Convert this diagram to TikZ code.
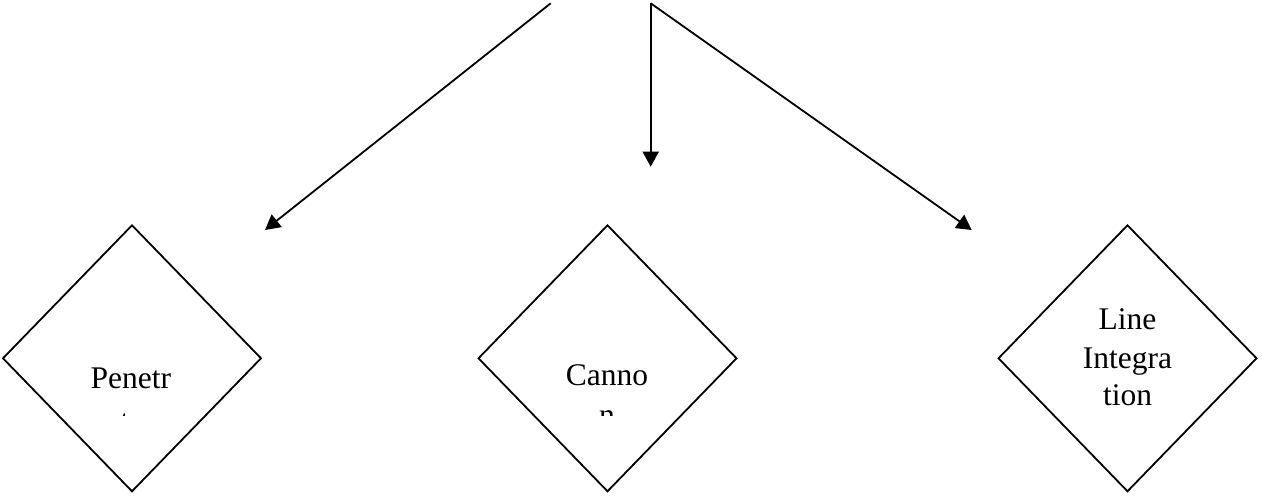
\documentclass[tikz,border=0pt]{standalone}
\usepackage{fontspec}
\setmainfont{Liberation Serif}
\usetikzlibrary{shapes.geometric,arrows.meta}
\begin{document}
\begin{tikzpicture}[x=1pt,y=-1pt,
  choice/.style={diamond,draw,line width=1.8pt,inner sep=0pt,outer sep=0pt,
    minimum width=258pt,minimum height=266pt},
  conn/.style={line width=1.8pt,-{Triangle[length=15pt,width=16pt]}},
  lbl/.style={anchor=base,inner sep=0pt,font=\fontsize{31.5}{37.8}\selectfont}]
\useasboundingbox (0,0) rectangle (1262,497);

% decision shapes
\node[choice] (pen) at (132,358.3) {};
\node[choice] (can) at (607.5,358.3) {};
\node[choice] (lin) at (1127.5,358.3) {};

% connector end points
\coordinate (srcL) at (550.7,3.3);
\coordinate (srcR) at (650.7,3.3);
\coordinate (tipL) at (265,230);
\coordinate (tipM) at (650.7,166.7);
\coordinate (tipR) at (971.7,230);

\draw[conn] (srcL) -- (tipL);
\draw[conn] (srcR) -- (tipM);
\draw[conn] (srcR) -- (tipR);

% labels (second lines cut off by the text frame)
\node[lbl] (penA) at (130.8,388.3) {Penetr};
\begin{scope}
  \clip (0,0) rectangle (400,415);
  \node[lbl] (penB) at (130.8,431) {ator};
\end{scope}

\node[lbl] (canA) at (607,385.7) {Canno};
\begin{scope}
  \clip (400,0) rectangle (900,415.5);
  \node[lbl] (canB) at (607,425.5) {n};
\end{scope}

\node[lbl] (linA) at (1127.5,330) {Line};
\node[lbl] (linB) at (1127.5,368) {Integra};
\node[lbl] (linC) at (1127.5,405.7) {tion};
\end{tikzpicture}
\end{document}
